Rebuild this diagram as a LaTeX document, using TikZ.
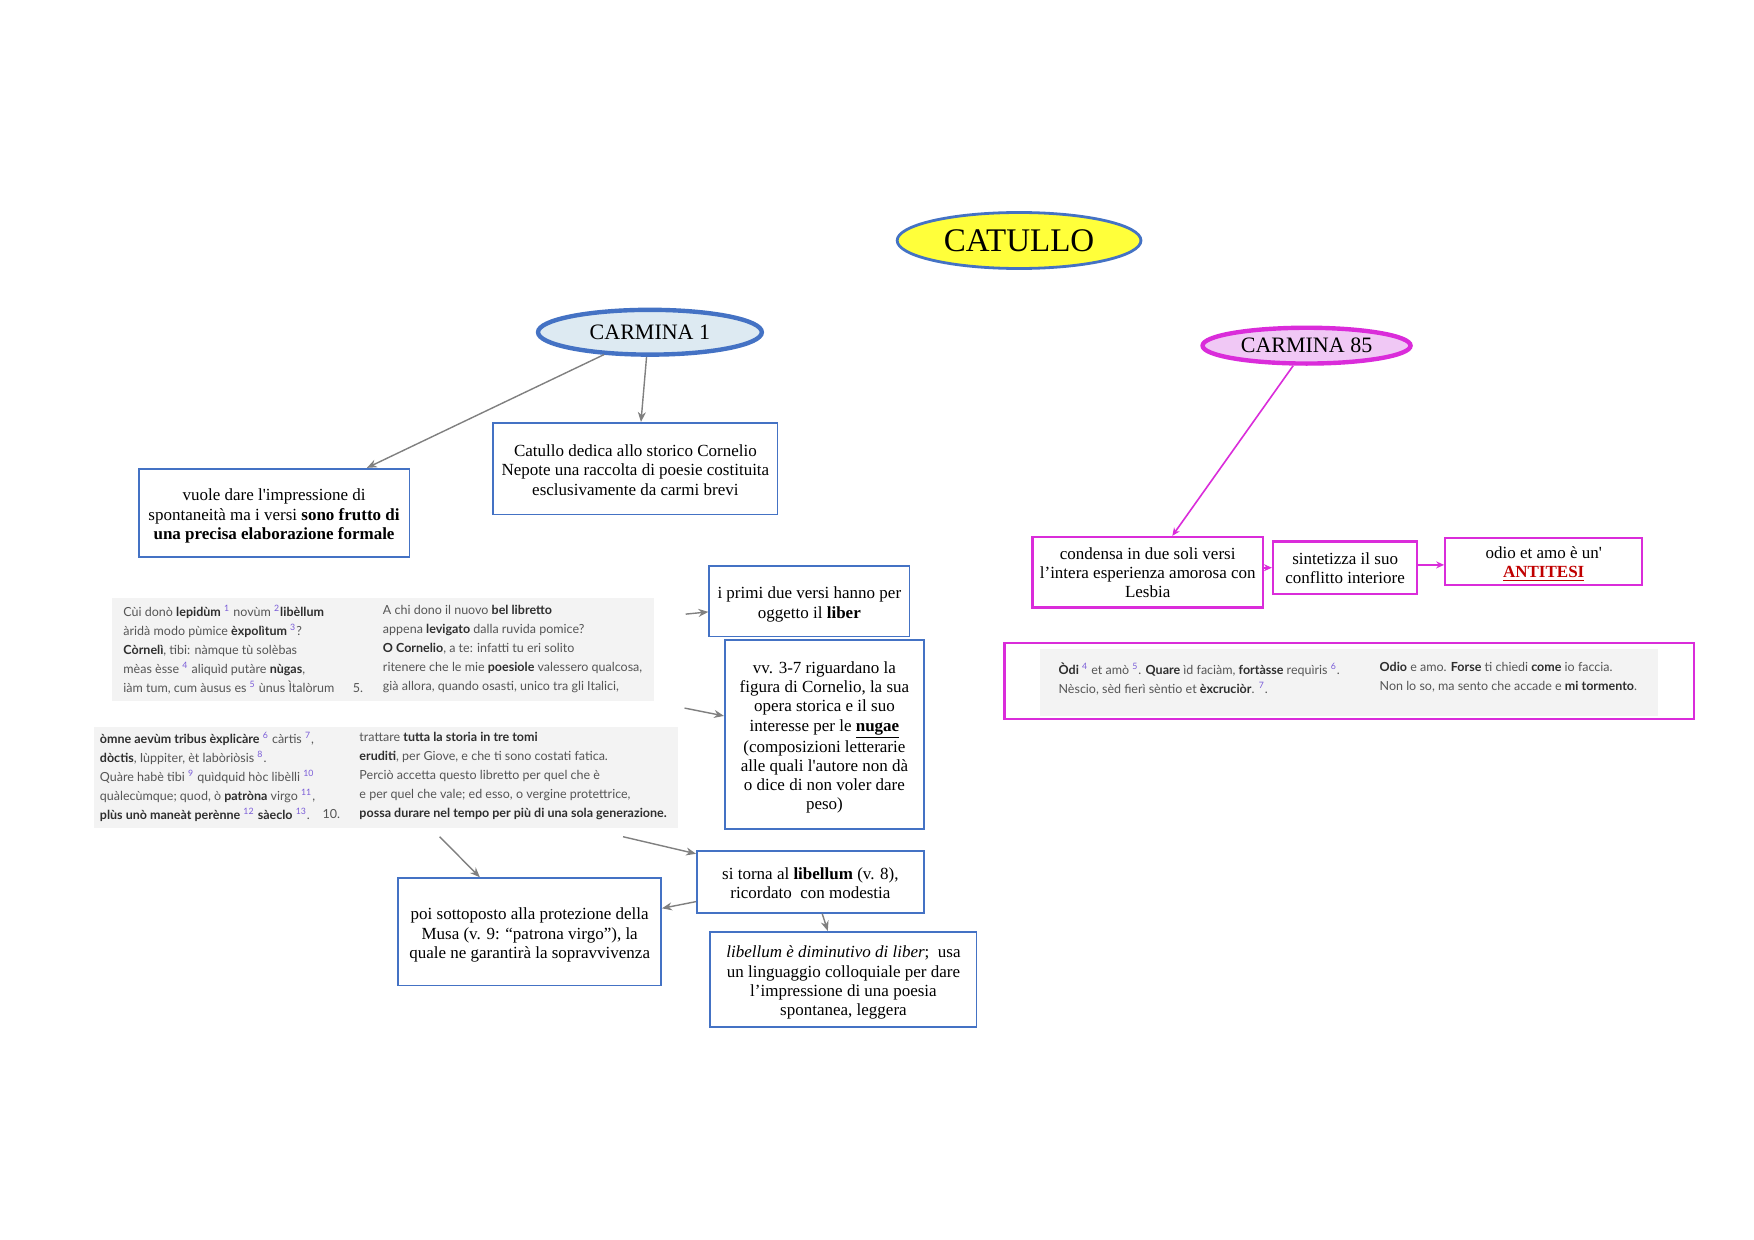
\documentclass[tikz,border=0pt]{standalone}
\usepackage{fontspec}
\usetikzlibrary{arrows.meta,calc,shapes.geometric}
\newfontfamily\tnr{Liberation Serif}
\newfontfamily\lato{Lato}
\definecolor{boxblue}{HTML}{4472C4}
\definecolor{yel}{HTML}{FFFF3A}
\definecolor{lblue}{HTML}{DDEAF2}
\definecolor{mag}{HTML}{DA2CDA}
\definecolor{lpink}{HTML}{F0C8F5}
\definecolor{arrgray}{HTML}{808080}
\definecolor{panelgray}{HTML}{F3F3F3}
\definecolor{latgray}{HTML}{555555}
\definecolor{latdark}{HTML}{2E2E2E}
\definecolor{supcol}{HTML}{7A5CD8}
\definecolor{antired}{HTML}{C00000}
\newcommand\boxfont{\tnr\fontsize{8.5}{9.6}\selectfont}
\newcommand\latfont{\lato\fontsize{6.25}{9.5}\selectfont}
\newcommand\sn[1]{\textsuperscript{\textcolor{supcol}{#1}}}
\newcommand\lb[1]{\textbf{\textcolor{latdark}{#1}}}
\newcommand\bt[1]{\raisebox{-1.7pt}[\height][\depth]{\begin{tabular}{@{}c@{}}#1\end{tabular}}}
\newcommand\mt[1]{\raisebox{-1.2pt}[\height][\depth]{\begin{tabular}{@{}c@{}}#1\end{tabular}}}
\tikzset{
  bbox/.style={draw=boxblue, line width=0.85pt, align=center, font=\boxfont, inner sep=2pt},
  mbox/.style={draw=mag, line width=1.1pt, align=center, font=\boxfont, inner sep=2pt},
  garrow/.style={draw=arrgray, line width=0.7pt, -{Stealth[length=5pt,width=4pt]}},
  marrow/.style={draw=mag, line width=0.8pt, -{Stealth[length=4pt,width=3.5pt]}},
  panel/.style={fill=panelgray, draw=none, inner sep=0},
  lat/.style={font=\latfont, align=left, inner sep=0, anchor=north west, text=latgray},
  latnum/.style={font=\latfont, inner sep=0, anchor=west, text=latgray},
}
\begin{document}
\begin{tikzpicture}[x=0.5593pt,y=-0.5593pt]
\useasboundingbox (0,0) rectangle (1568,1108.5);
\fill[white] (0,0) rectangle (1568,1108.5);

% ellipses
\node[ellipse, draw=boxblue, line width=1.4pt, fill=yel, minimum width=121.9pt, minimum height=28pt, inner sep=0,
  font=\tnr\fontsize{16.5}{18}\selectfont] (cat) at (911,215) {CATULLO};
\node[ellipse, draw=boxblue, line width=2.2pt, fill=lblue, minimum width=111.9pt, minimum height=22.4pt, inner sep=0,
  font=\tnr\fontsize{11}{12}\selectfont] (c1) at (581,297) {CARMINA 1};
\node[ellipse, draw=mag, line width=2.2pt, fill=lpink, minimum width=104pt, minimum height=17.9pt, inner sep=0,
  font=\tnr\fontsize{11}{12}\selectfont] (c85) at (1168,309) {CARMINA 85};

% blue boxes
\node[bbox, minimum width=135.35pt, minimum height=44.18pt] (vuole) at (245,458.5)
  {\bt{vuole dare l'impressione di\\ spontaneità ma i versi \textbf{sono frutto di}\\ \textbf{una precisa elaborazione formale}}};
\node[bbox, minimum width=142.06pt, minimum height=45.86pt] (dedica) at (568,419)
  {\bt{Catullo dedica allo storico Cornelio\\ Nepote una raccolta di poesie costituita\\ esclusivamente da carmi brevi}};
\node[bbox, minimum width=100.11pt, minimum height=35.24pt] (primi) at (723.5,537.5)
  {\bt{i primi due versi hanno per\\ oggetto il \textbf{liber}}};
\node[bbox, minimum width=99.56pt, minimum height=94.52pt] (vv) at (737,656.5)
  {\bt{vv. 3-7 riguardano la\\ figura di Cornelio, la sua\\ opera storica e il suo\\ interesse per le \underline{\textbf{nugae}}\\ (composizioni letterarie\\ alle quali l'autore non dà\\ o dice di non voler dare\\ peso)}};
\node[bbox, minimum width=113.54pt, minimum height=30.76pt] (sitorna) at (724.5,788.5)
  {\bt{si torna al \textbf{libellum} (v. 8),\\ ricordato\ \ con modestia}};
\node[bbox, minimum width=131.44pt, minimum height=53.69pt] (poi) at (473.5,833)
  {\bt{poi sottoposto alla protezione della\\ Musa (v. 9: “patrona virgo”), la\\ quale ne garantirà la sopravvivenza}};
\node[bbox, minimum width=133.11pt, minimum height=47.54pt] (libellum) at (754,875.5)
  {\bt{\textit{libellum è diminutivo di liber};\ \ usa\\ un linguaggio colloquiale per dare\\ l’impressione di una poesia\\ spontanea, leggera}};

% magenta boxes
\node[mbox, minimum width=115.22pt, minimum height=35.24pt] (condensa) at (1026,511.5)
  {\mt{condensa in due soli versi\\ l’intera esperienza amorosa con\\ Lesbia}};
\node[mbox, minimum width=72.15pt, minimum height=26.29pt] (sintetizza) at (1202.5,507.5)
  {\mt{sintetizza il suo\\ conflitto interiore}};
\node[mbox, minimum width=98.44pt, minimum height=22.37pt] (odio) at (1380,502)
  {\mt{odio et amo è un'\\ \textcolor{antired}{\underline{\textbf{ANTITESI}}}}};
\node[mbox, minimum width=344.53pt, minimum height=38.03pt] (big) at (1206,609) {};
\node[panel, minimum width=308.73pt, minimum height=33.56pt] (lat3) at (1206,610) {};
\node[lat] (lat3L) at (946,592) {\lb{Òdi} \sn{4} et amò \sn{5}. \lb{Quare} ìd faciàm, \lb{fortàsse} requìris \sn{6}.\\ Nèscio, sèd fierì sèntio et \lb{èxcruciòr}. \sn{7}.};
\node[lat] (lat3R) at (1233,592) {\lb{Odio} e amo. \lb{Forse} ti chiedi \lb{come} io faccia.\\ Non lo so, ma sento che accade e \lb{mi tormento}.};

% latin panels
\node[panel, minimum width=271.26pt, minimum height=51.46pt] (lat1) at (342.5,581) {};
\node[lat] (lat1L) at (110,541) {Cùi donò \lb{lepidùm} \sn{1} novùm \sn{2}\lb{libèllum}\\
  àridà modo pùmice \lb{èxpolìtum} \sn{3}?\\
  \lb{Còrnelì}, tibi: nàmque tù solèbas\\
  mèas èsse \sn{4} aliquìd putàre \lb{nùgas},\\
  iàm tum, cum àusus es \sn{5} ùnus Ìtalòrum};
\node[latnum] (n5) at (315,615) {5.};
\node[lat] (lat1R) at (342,541) {A chi dono il nuovo \lb{bel libretto}\\
  appena \lb{levigato} dalla ruvida pomice?\\
  \lb{O Cornelio}, a te: infatti tu eri solito\\
  ritenere che le mie \lb{poesiole} valessero qualcosa,\\
  già allora, quando osasti, unico tra gli Italici,};

\node[panel, minimum width=291.95pt, minimum height=50.34pt] (lat2) at (345,695) {};
\node[lat] (lat2L) at (89,654) {\lb{òmne aevùm tribus èxplicàre} \sn{6} càrtis \sn{7},\\
  \lb{dòctis}, Iùppiter, èt labòriòsis \sn{8}.\\
  Quàre habè tibi \sn{9} quìdquid hòc libèlli \sn{10}\\
  quàlecùmque; quod, ò \lb{patròna} virgo \sn{11},\\
  \lb{plùs unò maneàt perènne} \sn{12} \lb{sàeclo} \sn{13}.};
\node[latnum] (n10) at (288,728) {10.};
\node[lat] (lat2R) at (321,654) {trattare \lb{tutta la storia in tre tomi}\\
  \lb{eruditi}, per Giove, e che ti sono costati fatica.\\
  Perciò accetta questo libretto per quel che è\\
  e per quel che vale; ed esso, o vergine protettrice,\\
  \lb{possa durare nel tempo per più di una sola generazione.}};

% free ends
\coordinate (p1a) at (613,549);
\coordinate (p1b) at (612,633);
\coordinate (p2a) at (557,748);
\coordinate (p2b) at (393,748);

% connectors
\draw[garrow] ($(c1.south)+(-41,-2)$) -- ($(vuole.north)+(83,0)$);
\draw[garrow] ($(c1.south)+(-3,0)$) -- ($(dedica.north)+(5,0)$);
\draw[garrow] (p1a) -- ($(primi.west)+(0,9.5)$);
\draw[garrow] (p1b) -- ($(vv.west)+(0,-16.5)$);
\draw[garrow] (p2a) -- ($(sitorna.north west)+(0,3)$);
\draw[garrow] (p2b) -- ($(poi.north)+(-44.5,0)$);
\draw[garrow] ($(sitorna.west)+(0,17.5)$) -- ($(poi.east)+(0,-21)$);
\draw[garrow] ($(sitorna.south)+(10.5,0)$) -- ($(libellum.north)+(-14,0)$);
\draw[marrow] ($(c85.south)+(-12,0)$) -- ($(condensa.north)+(22,0)$);
\draw[marrow] (condensa.east |- sintetizza.west) -- (sintetizza.west);
\draw[marrow] ($(sintetizza.east)+(0,-2.5)$) -- ($(odio.west)+(0,3)$);
\end{tikzpicture}
\end{document}
